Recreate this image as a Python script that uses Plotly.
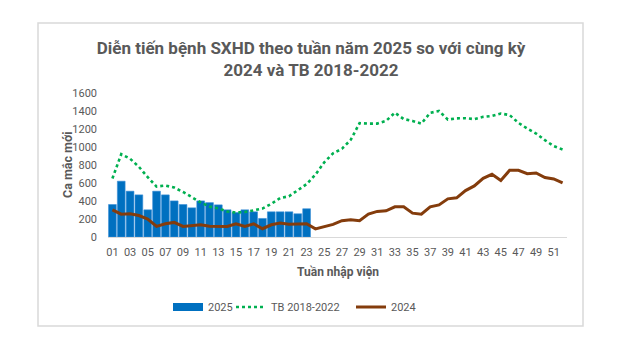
import plotly.graph_objects as go

weeks = [f"{i:02d}" for i in range(1, 53)]

cases_2025 = [361, 620, 509, 468, 302, 509, 468, 401, 361, 324, 401, 382,
              357, 302, 272, 302, 280, 206, 280, 280, 280, 258, 314]

tb_2018_2022 = [650, 920, 870, 780, 665, 560, 572, 550, 500, 440, 385, 338,
                318, 283, 272, 277, 295, 316, 368, 433, 452, 515, 587, 693,
                830, 930, 980, 1080, 1265, 1260, 1260, 1290, 1380, 1310, 1290, 1260,
                1380, 1400, 1305, 1318, 1320, 1310, 1335, 1345, 1372, 1355, 1268, 1205,
                1150, 1076, 1010, 973]

cases_2024 = [302, 254, 258, 239, 200, 118, 147, 162, 118, 128, 136, 120,
              117, 117, 147, 117, 147, 92, 136, 155, 143, 143, 147, 90,
              117, 140, 181, 192, 181, 254, 284, 291, 335, 335, 265, 254,
              335, 357, 424, 435, 516, 568, 652, 697, 627, 741, 741, 704,
              712, 660, 645, 601]

tick_weeks = weeks[0::2]
y_ticks = list(range(0, 1601, 200))

title_text = "Diễn tiến bệnh SXHD theo tuần năm 2025 so với cùng kỳ<br>2024 và TB 2018-2022"
y_title = "Ca mắc mới"
x_title = "Tuần nhập viện"

FONT = "Roboto, Open Sans, sans-serif"
GREY = "#595959"
BLUE = "#0070C0"
GREEN = "#00B050"
BROWN = "#843C0C"

fig = go.Figure()
fig.add_trace(go.Bar(
    x=weeks[:len(cases_2025)], y=cases_2025, name="2025", showlegend=False,
    marker=dict(color=BLUE, line=dict(color="#3a8fd6", width=0.6)),
))
# legend-only entry so the key is drawn as a wide bar like the original
fig.add_trace(go.Scatter(
    x=[None], y=[None], name="2025", mode="lines", legend="legend",
    line=dict(color=BLUE, width=8),
))
fig.add_trace(go.Scatter(
    x=weeks, y=tb_2018_2022, name="TB 2018-2022", mode="lines", legend="legend2",
    line=dict(color=GREEN, width=2.6, dash="dot"),
))
fig.add_trace(go.Scatter(
    x=weeks, y=cases_2024, name="2024", mode="lines", legend="legend3",
    line=dict(color=BROWN, width=3),
))

# the page body adds an 8px margin, so the figure is 8px smaller each way
W, H = 614, 351
L, R, T, B = 100, 55, 85, 122
pw, ph = W - L - R, H - T - B
OFF = 8

def px_x(x):  # screen px -> paper x
    return (x - OFF - L) / pw

def px_y(y):  # screen px -> paper y
    return (H - B - (y - OFF)) / ph

def leg(xpx):
    return dict(orientation="h", xref="container", yref="container",
                x=xpx / W, xanchor="left", y=1 - 299 / H, yanchor="middle",
                font=dict(size=11, color=GREY), itemwidth=30,
                bgcolor="rgba(0,0,0,0)")

fig.update_layout(
    width=W, height=H,
    margin=dict(l=L, r=R, t=T, b=B, autoexpand=False),
    paper_bgcolor="white", plot_bgcolor="white",
    bargap=0.12,
    font=dict(family=FONT, color=GREY, size=11),
    title=dict(text="<b>" + title_text + "</b>", x=303 / W, xanchor="center",
               y=1 - 46 / H, yanchor="top", xref="container", yref="container",
               font=dict(family=FONT, size=17, color=GREY)),
    xaxis=dict(type="category", categoryorder="array", categoryarray=weeks,
               tickmode="array", tickvals=tick_weeks, ticktext=tick_weeks,
               showline=True, linecolor="#d9d9d9", linewidth=1, automargin=False,
               showgrid=False, ticks="", ticklabelstandoff=5,
               tickfont=dict(size=11, color=GREY), range=[-0.5, 51.5]),
    yaxis=dict(range=[0, 1600], tickmode="array", tickvals=y_ticks, automargin=False,
               showgrid=False, zeroline=False, showline=False, ticks="",
               ticklabelstandoff=10, tickfont=dict(size=11, color=GREY)),
    legend=leg(160),
    legend2=leg(223),
    legend3=leg(343),
    showlegend=True,
    shapes=[dict(type="rect", xref="paper", yref="paper",
                 x0=px_x(38), x1=px_x(583), y0=px_y(326), y1=px_y(23),
                 line=dict(color="#d9d9d9", width=1.5), layer="below")],
    annotations=[
        dict(text="<b>" + y_title + "</b>", xref="paper", yref="paper",
             x=px_x(67), y=0.5, textangle=-90, showarrow=False,
             xanchor="center", yanchor="middle", font=dict(size=12.5, color=GREY)),
        dict(text="<b>" + x_title + "</b>", xref="paper", yref="paper",
             x=0.5, y=px_y(272), showarrow=False,
             xanchor="center", yanchor="middle", font=dict(size=12, color=GREY)),
    ],
)

fig.write_html("out.html")
